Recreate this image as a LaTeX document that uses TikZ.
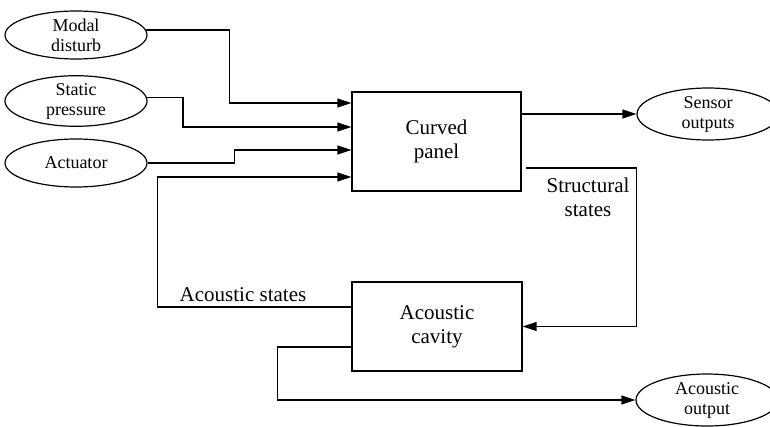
\documentclass[tikz,border=0pt]{standalone}
\usepackage{fontspec}
\setmainfont{Liberation Serif}
\usetikzlibrary{arrows.meta,shapes.geometric}

\tikzset{
  src/.style={ellipse, draw, line width=1.2pt, minimum width=142pt, minimum height=48pt,
              inner sep=0pt, align=center, font=\fontsize{18}{20}\selectfont},
  sink/.style={src, minimum height=52pt},
  block/.style={rectangle, draw, line width=1.2pt, inner sep=0pt, align=center,
                font=\fontsize{21}{24}\selectfont},
  lbl/.style={align=center, font=\fontsize{21}{24}\selectfont, inner sep=0pt},
  arr/.style={line width=1.3pt, -{Triangle[length=14pt,width=9pt]}},
  wire/.style={line width=1.3pt}
}

\begin{document}
\begin{tikzpicture}[x=1pt,y=-1pt]
  \useasboundingbox (0,0) rectangle (770,426);

  % inputs
  \node[src] (md)  at (76,35)  {Modal\\disturb};
  \node[src] (sp)  at (76,101) {Static\\pressure};
  \node[src] (act) at (76,163) {Actuator};

  % plant blocks
  \node[block, minimum width=169pt, minimum height=99pt] (cp) at (436.5,141.5) {Curved\\panel};
  \node[block, minimum width=170pt, minimum height=89pt] (ac) at (437,326.5) {Acoustic\\cavity};

  % outputs
  \node[sink] (so) at (708,114) {Sensor\\outputs};
  \node[sink] (ao) at (707,400) {Acoustic\\output};

  % input connectors
  \draw[arr] (md.4) -- ++(83,0) |- ([yshift=38.5pt]cp.west);
  \draw[arr] (sp.3) -- ++(36,0) |- ([yshift=14.5pt]cp.west);
  \draw[arr] (act.east) -- ++(87,0) |- ([yshift=-8.5pt]cp.west);

  % acoustic feedback to the panel
  \draw[arr] ([yshift=19.5pt]ac.west) -- ++(-194,0) |- ([yshift=-35.5pt]cp.west);
  \node[lbl] (asl) at (243,295) {Acoustic states};

  % structural states to the cavity
  \draw[arr] ([xshift=4pt,yshift=-26.5pt]cp.east) -- ++(111,0) |- (ac.east);
  \node[lbl] (ssl) at (588,197) {Structural\\states};

  % outputs
  \draw[arr] (cp.east |- so.west) -- (so.west);
  \draw[arr] ([yshift=-20.5pt]ac.west) -- ++(-74,0) |- (ao.west);
\end{tikzpicture}
\end{document}
